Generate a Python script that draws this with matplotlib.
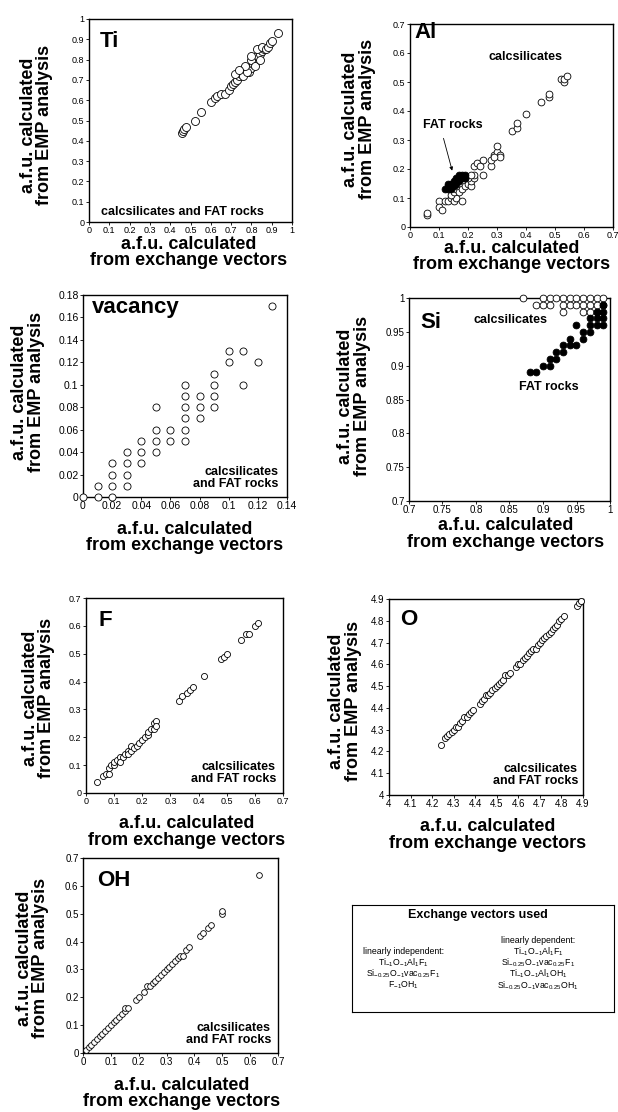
import matplotlib
matplotlib.use("Agg")
import matplotlib.pyplot as plt
import numpy as np

plt.rcParams['font.family'] = ['Liberation Sans', 'DejaVu Sans']
plt.rcParams['mathtext.default'] = 'regular'

W, H = 618, 1112

# ---- datos ----
ti_x = [0.46, 0.465, 0.47, 0.48, 0.52, 0.55, 0.60, 0.62, 0.63, 0.65, 0.67, 0.69, 0.70, 0.71,
        0.72, 0.73, 0.74, 0.75, 0.76, 0.77, 0.78, 0.79, 0.80, 0.81, 0.82, 0.83, 0.84, 0.85,
        0.86, 0.80, 0.82, 0.84, 0.76, 0.78, 0.83, 0.85, 0.87, 0.88, 0.89, 0.90, 0.93, 0.72,
        0.77, 0.74, 0.80]
ti_y = [0.44, 0.45, 0.46, 0.47, 0.50, 0.54, 0.59, 0.61, 0.62, 0.63, 0.63, 0.65, 0.67, 0.68,
        0.69, 0.70, 0.72, 0.73, 0.74, 0.75, 0.76, 0.74, 0.76, 0.78, 0.80, 0.82, 0.83, 0.84,
        0.85, 0.80, 0.77, 0.80, 0.72, 0.74, 0.85, 0.86, 0.85, 0.86, 0.88, 0.89, 0.93, 0.73,
        0.77, 0.75, 0.82]

al_calc_x = [0.06, 0.06, 0.10, 0.10, 0.11, 0.12, 0.13, 0.14, 0.15, 0.16, 0.18, 0.14, 0.15,
             0.16, 0.17, 0.18, 0.19, 0.20, 0.21, 0.21, 0.22, 0.20, 0.22, 0.23, 0.24, 0.25,
             0.25, 0.22, 0.28, 0.28, 0.29, 0.30, 0.30, 0.31, 0.31, 0.29, 0.35, 0.37, 0.37,
             0.40, 0.45, 0.48, 0.48, 0.52, 0.53, 0.53, 0.54, 0.19, 0.21]
al_calc_y = [0.04, 0.05, 0.09, 0.07, 0.06, 0.09, 0.09, 0.10, 0.09, 0.10, 0.09, 0.11, 0.12,
             0.13, 0.12, 0.13, 0.14, 0.15, 0.14, 0.16, 0.17, 0.17, 0.21, 0.22, 0.21, 0.23,
             0.18, 0.18, 0.21, 0.23, 0.25, 0.26, 0.28, 0.25, 0.24, 0.24, 0.33, 0.34, 0.36,
             0.39, 0.43, 0.45, 0.46, 0.51, 0.50, 0.51, 0.52, 0.17, 0.18]
al_fat_x = [0.12, 0.13, 0.13, 0.14, 0.14, 0.15, 0.15, 0.16, 0.16, 0.17, 0.17, 0.18, 0.18,
            0.19, 0.19, 0.15, 0.16, 0.17, 0.14, 0.13]
al_fat_y = [0.13, 0.14, 0.15, 0.14, 0.15, 0.15, 0.16, 0.16, 0.15, 0.16, 0.17, 0.17, 0.18,
            0.18, 0.17, 0.14, 0.17, 0.18, 0.13, 0.13]

vac_x = [0, 0.01, 0.01, 0.02, 0.02, 0.02, 0.02, 0.03, 0.03, 0.03, 0.03, 0.04, 0.04, 0.04,
         0.05, 0.05, 0.05, 0.05, 0.06, 0.06, 0.07, 0.07, 0.07, 0.07, 0.07, 0.07, 0.08, 0.08,
         0.08, 0.09, 0.09, 0.09, 0.09, 0.10, 0.10, 0.11, 0.11, 0.12, 0.13]
vac_y = [0, 0, 0.01, 0, 0.01, 0.02, 0.03, 0.01, 0.02, 0.03, 0.04, 0.03, 0.04, 0.05,
         0.04, 0.05, 0.06, 0.08, 0.05, 0.06, 0.05, 0.06, 0.07, 0.08, 0.09, 0.10, 0.07, 0.08,
         0.09, 0.08, 0.09, 0.10, 0.11, 0.12, 0.13, 0.10, 0.13, 0.12, 0.17]

si_calc_x = [0.87, 0.90, 0.91, 0.92, 0.93, 0.94, 0.95, 0.96, 0.97, 0.98, 0.99,
             0.89, 0.90, 0.91, 0.93, 0.94, 0.95, 0.96, 0.97, 0.98, 0.99,
             0.93, 0.96, 0.97, 0.98]
si_calc_y = [1.00] * 11 + [0.99] * 10 + [0.98] * 4
si_fat_x = [0.88, 0.89, 0.90, 0.91, 0.91, 0.92, 0.92, 0.93, 0.93, 0.94, 0.94, 0.95, 0.95,
            0.96, 0.96, 0.97, 0.97, 0.97, 0.98, 0.98, 0.99, 0.99, 0.99, 0.98, 0.99]
si_fat_y = [0.89, 0.89, 0.90, 0.90, 0.91, 0.91, 0.92, 0.92, 0.93, 0.93, 0.94, 0.93, 0.96,
            0.94, 0.95, 0.95, 0.96, 0.97, 0.96, 0.97, 0.96, 0.97, 0.98, 0.98, 0.99]

f_x = [0.04, 0.06, 0.07, 0.08, 0.08, 0.09, 0.10, 0.10, 0.11, 0.12, 0.12, 0.13, 0.14, 0.15,
       0.15, 0.16, 0.16, 0.17, 0.18, 0.19, 0.20, 0.21, 0.22, 0.22, 0.23, 0.24, 0.24, 0.25,
       0.25, 0.33, 0.34, 0.36, 0.37, 0.38, 0.42, 0.48, 0.49, 0.50, 0.55, 0.57, 0.58, 0.60,
       0.61]
f_y = [0.04, 0.06, 0.07, 0.07, 0.09, 0.10, 0.10, 0.11, 0.12, 0.13, 0.11, 0.13, 0.14, 0.15,
       0.14, 0.15, 0.17, 0.16, 0.17, 0.18, 0.19, 0.20, 0.21, 0.22, 0.23, 0.23, 0.25, 0.26,
       0.24, 0.33, 0.35, 0.36, 0.37, 0.38, 0.42, 0.48, 0.49, 0.50, 0.55, 0.57, 0.57, 0.60,
       0.61]

o_x = [4.24, 4.26, 4.27, 4.28, 4.29, 4.30, 4.31, 4.32, 4.33, 4.34, 4.35, 4.36, 4.37, 4.38,
       4.39, 4.42, 4.43, 4.44, 4.45, 4.46, 4.47, 4.48, 4.49, 4.50, 4.51, 4.52, 4.53, 4.54,
       4.55, 4.56, 4.59, 4.60, 4.61, 4.62, 4.63, 4.64, 4.65, 4.66, 4.67, 4.68, 4.69, 4.70,
       4.71, 4.72, 4.73, 4.74, 4.75, 4.76, 4.77, 4.78, 4.79, 4.80, 4.81, 4.87, 4.88, 4.89]
o_y = [4.23, 4.26, 4.27, 4.28, 4.29, 4.30, 4.31, 4.31, 4.33, 4.34, 4.36, 4.36, 4.37, 4.38,
       4.39, 4.42, 4.43, 4.44, 4.46, 4.46, 4.47, 4.48, 4.49, 4.50, 4.51, 4.52, 4.53, 4.55,
       4.55, 4.56, 4.59, 4.60, 4.60, 4.62, 4.63, 4.64, 4.65, 4.66, 4.67, 4.67, 4.69, 4.70,
       4.71, 4.72, 4.73, 4.74, 4.75, 4.76, 4.77, 4.78, 4.80, 4.81, 4.82, 4.87, 4.88, 4.89]

oh_x = [0.01, 0.02, 0.03, 0.04, 0.05, 0.06, 0.07, 0.08, 0.09, 0.10, 0.11, 0.12, 0.13, 0.14,
        0.15, 0.15, 0.16, 0.19, 0.20, 0.22, 0.23, 0.24, 0.25, 0.26, 0.27, 0.28, 0.29, 0.30,
        0.31, 0.32, 0.33, 0.34, 0.35, 0.36, 0.37, 0.38, 0.42, 0.43, 0.45, 0.46, 0.50, 0.50,
        0.63]
oh_y = [0.01, 0.02, 0.03, 0.04, 0.05, 0.06, 0.07, 0.08, 0.09, 0.10, 0.11, 0.12, 0.13, 0.14,
        0.15, 0.16, 0.16, 0.19, 0.20, 0.22, 0.24, 0.24, 0.25, 0.26, 0.27, 0.28, 0.29, 0.30,
        0.31, 0.32, 0.33, 0.34, 0.35, 0.35, 0.37, 0.38, 0.42, 0.43, 0.45, 0.46, 0.50, 0.51,
        0.64]

etiqueta_x = "a.f.u. calculated\nfrom exchange vectors"
etiqueta_y = "a.f.u. calculated\nfrom EMP analysis"
texto_ambos = "calcsilicates\nand FAT rocks"


def px_ax(x0, y0, x1, y1):
    # caja en pixeles (origen arriba-izquierda) -> fracciones de figura
    return [x0 / W, 1 - y1 / H, (x1 - x0) / W, (y1 - y0) / H]


fig = plt.figure(figsize=(W / 100, H / 100), dpi=100)


def panel(caja, lims, ticks, nombre, pos_nombre, xl, yl, tsize=6.5):
    ax = fig.add_axes(px_ax(*caja))
    ax.set_xlim(lims)
    ax.set_ylim(lims)
    ax.set_xticks(ticks)
    ax.set_yticks(ticks)
    fmt = lambda v, p: ('%g' % round(v, 3))
    ax.xaxis.set_major_formatter(plt.FuncFormatter(fmt))
    ax.yaxis.set_major_formatter(plt.FuncFormatter(fmt))
    ax.tick_params(direction='out', length=2, width=0.6, labelsize=tsize, pad=1.2,
                   top=False, right=False)
    for s in ax.spines.values():
        s.set_linewidth(1.0)
    ax.text(pos_nombre[0], pos_nombre[1], nombre, transform=ax.transAxes, ha='left',
            va='center', fontsize=16, fontweight='bold')
    fig.text(xl[0] / W, 1 - xl[1] / H, etiqueta_x, ha='center', va='center', fontsize=13,
             fontweight='bold', linespacing=0.95)
    fig.text(yl[0] / W, 1 - yl[1] / H, etiqueta_y, ha='center', va='center', fontsize=13,
             fontweight='bold', linespacing=0.95, rotation=90)
    return ax


def puntos(ax, x, y, s, relleno=False):
    ax.scatter(x, y, s=s, facecolors='black' if relleno else 'white', edgecolors='black',
               linewidths=0.6, clip_on=False, zorder=3)


# Ti
ax = panel((89, 19, 292, 222), (0, 1), np.arange(0, 1.01, 0.1), "Ti", (0.054, 0.887),
           (189, 252.5), (36.5, 125))
puntos(ax, ti_x, ti_y, 33)
ax.text(0.458, 0.05, "calcsilicates and FAT rocks", transform=ax.transAxes, ha='center',
        va='center', fontsize=9, fontweight='bold')

# Al
ax = panel((410, 24, 613, 227), (0, 0.7), np.arange(0, 0.71, 0.1), "Al", (0.02, 0.956),
           (512, 256.5), (359, 119))
puntos(ax, al_calc_x, al_calc_y, 24)
puntos(ax, al_fat_x, al_fat_y, 24, relleno=True)
ax.text(0.57, 0.837, "calcsilicates", transform=ax.transAxes, ha='center', va='center',
        fontsize=9, fontweight='bold')
ax.text(0.21, 0.50, "FAT rocks", transform=ax.transAxes, ha='center', va='center',
        fontsize=9, fontweight='bold')
ax.annotate('', xy=(0.148, 0.185), xytext=(0.113, 0.315),
            arrowprops=dict(arrowstyle='-|>', lw=0.6, color='black', mutation_scale=5))

# vacancy
ax = panel((83, 295, 287, 497), (0, 0.14), np.arange(0, 0.141, 0.02), "vacancy",
           (0.044, 0.936), (185, 537.5), (28, 392), tsize=7.5)
ax.set_ylim(0, 0.18)
ax.set_yticks(np.arange(0, 0.181, 0.02))
puntos(ax, vac_x, vac_y, 26)
ax.text(0.956, 0.094, texto_ambos, transform=ax.transAxes, ha='right', va='center',
        fontsize=9, fontweight='bold', linespacing=1.0)

# Si
ax = panel((409, 298, 610, 501), (0.7, 1.0), np.arange(0.7, 1.001, 0.05), "Si",
           (0.055, 0.88), (506, 534), (354, 396), tsize=7)
puntos(ax, si_calc_x, si_calc_y, 24)
puntos(ax, si_fat_x, si_fat_y, 24, relleno=True)
ax.text(0.507, 0.89, "calcsilicates", transform=ax.transAxes, ha='center', va='center',
        fontsize=9, fontweight='bold')
ax.text(0.697, 0.56, "FAT rocks", transform=ax.transAxes, ha='center', va='center',
        fontsize=9, fontweight='bold')

# F
ax = panel((86, 598, 283, 793), (0, 0.7), np.arange(0, 0.71, 0.1), "F", (0.061, 0.887),
           (187, 832), (38.5, 698))
puntos(ax, f_x, f_y, 19)
ax.text(0.964, 0.1, texto_ambos, transform=ax.transAxes, ha='right', va='center',
        fontsize=9, fontweight='bold', linespacing=1.0)

# O
ax = panel((389, 599, 583, 795), (4, 4.9), np.arange(4, 4.91, 0.1), "O", (0.057, 0.893),
           (488, 835), (345, 701), tsize=7)
puntos(ax, o_x, o_y, 19)
ax.text(0.974, 0.1, texto_ambos, transform=ax.transAxes, ha='right', va='center',
        fontsize=9, fontweight='bold', linespacing=1.0)

# OH
ax = panel((83, 858, 278, 1053), (0, 0.7), np.arange(0, 0.71, 0.1), "OH", (0.072, 0.887),
           (182, 1093.5), (32.5, 958), tsize=7)
puntos(ax, oh_x, oh_y, 17)
ax.text(0.964, 0.095, texto_ambos, transform=ax.transAxes, ha='right', va='center',
        fontsize=9, fontweight='bold', linespacing=1.0)

# caja de vectores de intercambio
axb = fig.add_axes(px_ax(352, 905, 614, 1012))
axb.set_xticks([])
axb.set_yticks([])
for s in axb.spines.values():
    s.set_linewidth(0.8)
axb.text(0.48, 0.907, "Exchange vectors used", ha='center', va='center', fontsize=9,
         fontweight='bold', transform=axb.transAxes)
izq = ["linearly independent:",
       "Ti$_{-1}$O$_{-1}$Al$_{1}$F$_{1}$",
       "Si$_{-0.25}$O$_{-1}$vac$_{0.25}$F$_{1}$",
       "F$_{-1}$OH$_{1}$"]
der = ["linearly dependent:",
       "Ti$_{-1}$O$_{-1}$Al$_{1}$F$_{1}$",
       "Si$_{-0.25}$O$_{-1}$vac$_{0.25}$F$_{1}$",
       "Ti$_{-1}$O$_{-1}$Al$_{1}$OH$_{1}$",
       "Si$_{-0.25}$O$_{-1}$vac$_{0.25}$OH$_{1}$"]
for t, yy in zip(izq, [0.565, 0.46, 0.355, 0.25]):
    axb.text(0.195, yy, t, ha='center', va='center', fontsize=6.3, transform=axb.transAxes)
for t, yy in zip(der, [0.67, 0.565, 0.46, 0.355, 0.25]):
    axb.text(0.71, yy, t, ha='center', va='center', fontsize=6.3, transform=axb.transAxes)

fig.savefig("out.png", dpi=100)
